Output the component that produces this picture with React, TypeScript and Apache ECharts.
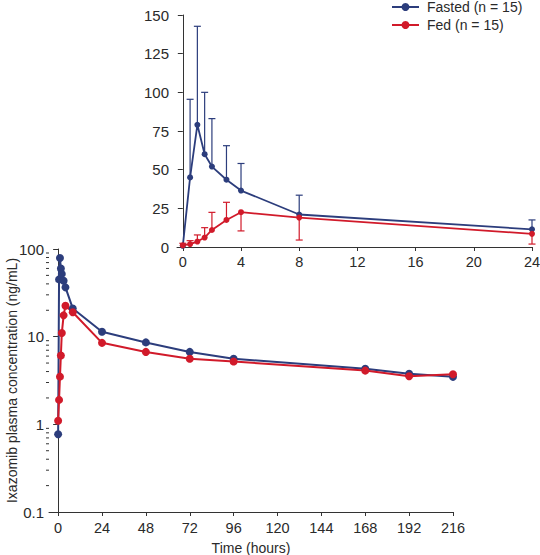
import React, { useEffect, useRef } from "react";
import * as echarts from "echarts";

// ---- Data ----
const timeHours = [0, 0.5, 1, 1.5, 2, 3, 4, 8, 24, 48, 72, 96, 168, 192, 216];
const fastedMean = [0.77, 45, 79, 60, 52, 43.5, 36.5, 21, 11.4, 8.6, 6.7, 5.6, 4.3, 3.77, 3.48];
const fedMean = [1.1, 1.9, 3.5, 6.1, 11, 17.5, 22.5, 19, 8.5, 6.7, 5.6, 5.2, 4.1, 3.54, 3.73];

// inset (first 24 h) error-bar end values (mean -> end)
const insetTimes = [0, 0.5, 1, 1.5, 2, 3, 4, 8, 24];
const fastedErrEnd = [null, 95.5, 142.7, 100, 83, 65.5, 54, 33.5, 17.5];
const fedErrEnd = [2.4, 4.1, 7.8, 12.5, 22.4, 28.9, 10.4, 4.5, 1.9];

const mainXTicks = [0, 24, 48, 72, 96, 120, 144, 168, 192, 216];
const insetXTicks = [0, 4, 8, 12, 16, 20, 24];
const logMinorTicks = [0.2, 0.3, 0.4, 0.5, 0.6, 0.7, 0.8, 0.9, 2, 3, 4, 5, 6, 7, 8, 9, 20, 30, 40, 50, 60, 70, 80, 90];

const fastedName = "Fasted (n = 15)";
const fedName = "Fed (n = 15)";

const BLUE = "#2c3d7c";
const RED = "#d11a2a";
const AXIS = "#333333";
const TEXT = "#2a2a2a";
const FONT = "'Liberation Sans', Arial, Helvetica, sans-serif";
const MAIN_X_MIN = -5;

export default function App() {
  const ref = useRef<HTMLDivElement>(null);

  useEffect(() => {
    if (!ref.current) return;
    const chart = echarts.init(ref.current, undefined, { renderer: "svg" });

    const pairs = (xs: number[], ys: (number | null)[]) => xs.map((x, i) => [x, ys[i]]);
    const insetFasted = pairs(insetTimes, fastedMean.slice(0, insetTimes.length));
    const insetFed = pairs(insetTimes, fedMean.slice(0, insetTimes.length));
    const fastedErr = insetTimes
      .map((t, i) => [t, fastedMean[i], fastedErrEnd[i]])
      .filter((d) => d[2] !== null);
    const fedErr = insetTimes.map((t, i) => [t, fedMean[i], fedErrEnd[i]]);

    const errRender = (color: string) => (params: any, api: any) => {
      const p1 = api.coord([api.value(0), api.value(1)]);
      const p2 = api.coord([api.value(0), api.value(2)]);
      const cap = 3.5;
      return {
        type: "group",
        children: [
          { type: "line", shape: { x1: p1[0], y1: p1[1], x2: p2[0], y2: p2[1] }, style: { stroke: color, lineWidth: 1.2 } },
          { type: "line", shape: { x1: p2[0] - cap, y1: p2[1], x2: p2[0] + cap, y2: p2[1] }, style: { stroke: color, lineWidth: 1.2 } },
        ],
      };
    };

    const axisLine = { show: true, lineStyle: { color: AXIS, width: 1 } };

    const option: any = {
      animation: false,
      textStyle: { fontFamily: FONT },
      legend: {
        data: [fastedName, fedName],
        orient: "vertical",
        left: 391,
        top: 0,
        padding: 0,
        itemWidth: 27,
        itemHeight: 10,
        itemGap: 4,
        textStyle: { fontSize: 14, color: TEXT, fontFamily: FONT, padding: [0, 0, 0, 3] },
      },
      grid: [
        { left: 49, right: 87, top: 249, bottom: 43, containLabel: false, outerBoundsMode: "none" },
        { left: 177, right: 8, top: 15, bottom: 308, containLabel: false, outerBoundsMode: "none" },
      ],
      xAxis: [
        {
          gridIndex: 0,
          type: "value",
          min: MAIN_X_MIN,
          max: 216,
          name: "Time (hours)",
          nameLocation: "middle",
          nameGap: 29,
          nameMoveOverlap: false,
          nameTextStyle: { fontSize: 14, color: TEXT, fontFamily: FONT },
          axisLine,
          axisTick: { show: true, length: 4, customValues: mainXTicks, lineStyle: { color: AXIS } },
          axisLabel: { customValues: mainXTicks, fontSize: 14.5, color: TEXT, margin: 8, fontFamily: FONT },
          splitLine: { show: false },
        },
        {
          gridIndex: 1,
          type: "value",
          min: -0.4,
          max: 24,
          axisLine,
          axisTick: { show: true, length: 4, customValues: insetXTicks, lineStyle: { color: AXIS } },
          axisLabel: { customValues: insetXTicks, fontSize: 14.5, color: TEXT, margin: 7, fontFamily: FONT },
          splitLine: { show: false },
        },
      ],
      yAxis: [
        {
          gridIndex: 0,
          type: "log",
          logBase: 10,
          min: 0.1,
          max: 100,
          name: "Ixazomib plasma concentration (ng/mL)",
          nameLocation: "middle",
          nameGap: 30,
          nameMoveOverlap: false,
          nameTextStyle: { fontSize: 14, color: TEXT, fontFamily: FONT },
          axisLine,
          axisTick: { show: true, length: 5, lineStyle: { color: AXIS } },
          axisLabel: { fontSize: 15, color: TEXT, margin: 5, fontFamily: FONT },
          splitLine: { show: false },
        },
        {
          gridIndex: 1,
          type: "value",
          min: 0,
          max: 150,
          interval: 25,
          axisLine,
          axisTick: { show: true, length: 5, lineStyle: { color: AXIS } },
          axisLabel: { fontSize: 15, color: TEXT, margin: 8, fontFamily: FONT },
          splitLine: { show: false },
        },
      ],
      series: [
        {
          type: "custom",
          name: "minorTicks",
          xAxisIndex: 0,
          yAxisIndex: 0,
          silent: true,
          clip: false,
          data: logMinorTicks.map((v) => [MAIN_X_MIN, v]),
          renderItem: (params: any, api: any) => {
            const p = api.coord([api.value(0), api.value(1)]);
            return {
              type: "line",
              shape: { x1: p[0] - 3, y1: p[1], x2: p[0], y2: p[1] },
              style: { stroke: AXIS, lineWidth: 1 },
            };
          },
        },
        {
          type: "line",
          name: fastedName,
          xAxisIndex: 0,
          yAxisIndex: 0,
          data: pairs(timeHours, fastedMean),
          symbol: "circle",
          symbolSize: 8,
          color: BLUE,
          lineStyle: { color: BLUE, width: 2 },
          itemStyle: { color: BLUE },
        },
        {
          type: "line",
          name: fedName,
          xAxisIndex: 0,
          yAxisIndex: 0,
          data: pairs(timeHours, fedMean),
          symbol: "circle",
          symbolSize: 8,
          color: RED,
          lineStyle: { color: RED, width: 2 },
          itemStyle: { color: RED },
        },
        {
          type: "custom",
          name: fastedName,
          xAxisIndex: 1,
          yAxisIndex: 1,
          data: fastedErr,
          renderItem: errRender(BLUE),
          z: 1,
        },
        {
          type: "custom",
          name: fedName,
          xAxisIndex: 1,
          yAxisIndex: 1,
          data: fedErr,
          renderItem: errRender(RED),
          z: 1,
        },
        {
          type: "line",
          name: fastedName,
          xAxisIndex: 1,
          yAxisIndex: 1,
          data: insetFasted,
          symbol: "circle",
          symbolSize: 6,
          color: BLUE,
          lineStyle: { color: BLUE, width: 1.8 },
          itemStyle: { color: BLUE },
          z: 3,
        },
        {
          type: "line",
          name: fedName,
          xAxisIndex: 1,
          yAxisIndex: 1,
          data: insetFed,
          symbol: "circle",
          symbolSize: 6,
          color: RED,
          lineStyle: { color: RED, width: 1.8 },
          itemStyle: { color: RED },
          z: 3,
        },
      ],
    };

    chart.setOption(option);
    return () => chart.dispose();
  }, []);

  return <div ref={ref} style={{ width: 540, height: 555, position: "absolute", left: 0, top: 0 }} />;
}
